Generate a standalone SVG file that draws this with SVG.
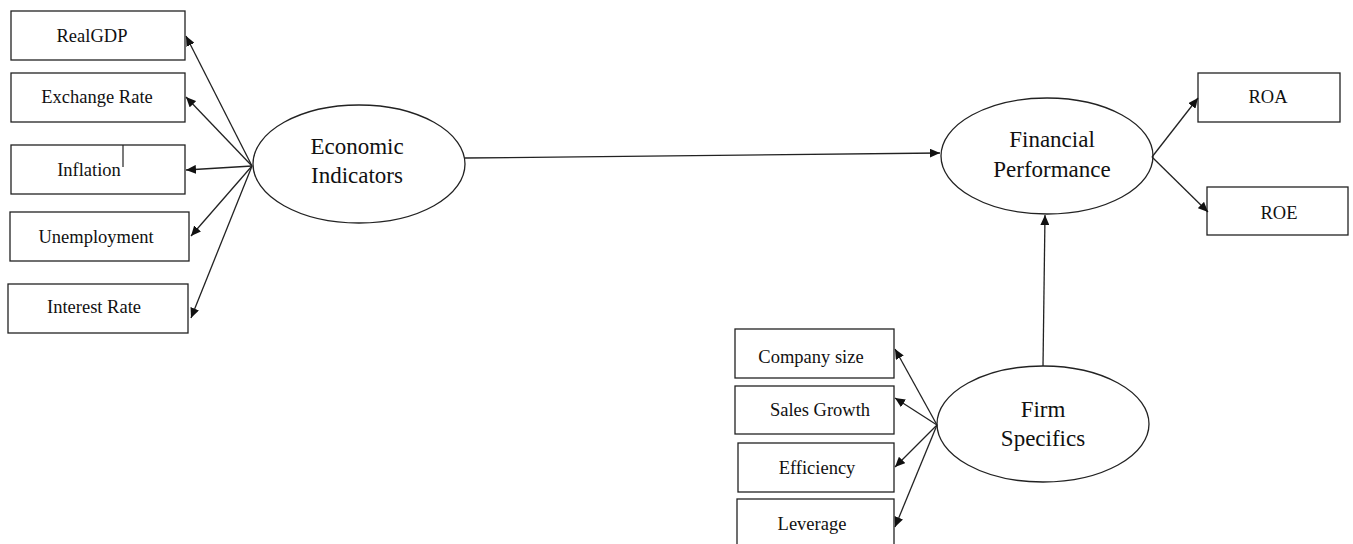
<svg xmlns="http://www.w3.org/2000/svg" width="1353" height="544" viewBox="0 0 1353 544">
<style>
.box{fill:#fff;stroke:#222;stroke-width:1.3}
.ell{fill:#fff;stroke:#222;stroke-width:1.3}
.bt{font-family:"Liberation Serif","Times New Roman",serif;font-size:18.5px;fill:#111;text-anchor:middle}
.et{font-family:"Liberation Serif","Times New Roman",serif;font-size:23px;fill:#111;text-anchor:middle}
.con line{stroke:#222;stroke-width:1.3;marker-end:url(#ah)}
</style>
<defs>
<marker id="ah" markerUnits="userSpaceOnUse" markerWidth="11" markerHeight="9" refX="10" refY="4.5" orient="auto">
<path d="M0,0 L10,4.5 L0,9 z" fill="#111"/>
</marker>
</defs>
<rect width="1353" height="544" fill="#fff"/>
<g id="realgdp"><rect class="box" x="11" y="11" width="174" height="49"/><text class="bt" x="92" y="42">RealGDP</text></g>
<g id="exchange"><rect class="box" x="11" y="73" width="174" height="49"/><text class="bt" x="97" y="103">Exchange Rate</text></g>
<g id="inflation"><rect class="box" x="11" y="145" width="174" height="49"/><line x1="123" y1="145" x2="123" y2="167" stroke="#222" stroke-width="1.2"/><text class="bt" x="89" y="176">Inflation</text></g>
<g id="unemployment"><rect class="box" x="10" y="212" width="179" height="49"/><text class="bt" x="96" y="243">Unemployment</text></g>
<g id="interest"><rect class="box" x="8" y="284" width="180" height="49"/><text class="bt" x="94" y="313">Interest Rate</text></g>
<g id="economic"><ellipse class="ell" cx="359" cy="164" rx="106" ry="59"/><text class="et" x="357" y="154">Economic</text><text class="et" x="357" y="183">Indicators</text></g>
<g id="financial"><ellipse class="ell" cx="1047" cy="156" rx="106" ry="58"/><text class="et" x="1052" y="147">Financial</text><text class="et" x="1052" y="177">Performance</text></g>
<g id="roa"><rect class="box" x="1198" y="73" width="142" height="49"/><text class="bt" x="1268" y="103">ROA</text></g>
<g id="roe"><rect class="box" x="1207" y="187" width="141" height="48"/><text class="bt" x="1279" y="219">ROE</text></g>
<g id="firm"><ellipse class="ell" cx="1043" cy="424" rx="106" ry="58"/><text class="et" x="1043" y="417">Firm</text><text class="et" x="1043" y="446">Specifics</text></g>
<g id="company"><rect class="box" x="735" y="329" width="159" height="49"/><text class="bt" x="811" y="363">Company size</text></g>
<g id="sales"><rect class="box" x="735" y="386" width="159" height="48"/><text class="bt" x="820" y="416">Sales Growth</text></g>
<g id="efficiency"><rect class="box" x="738" y="443" width="156" height="49"/><text class="bt" x="817" y="474">Efficiency</text></g>
<g id="leverage"><rect class="box" x="737" y="499" width="157" height="50"/><text class="bt" x="812" y="530">Leverage</text></g>
<g id="connectors" class="con">
<line x1="252" y1="166" x2="186" y2="36"/>
<line x1="252" y1="166" x2="186" y2="97"/>
<line x1="252" y1="166" x2="186" y2="170"/>
<line x1="252" y1="166" x2="191" y2="236"/>
<line x1="252" y1="166" x2="191" y2="318"/>
<line x1="465" y1="158" x2="940" y2="153"/>
<line x1="1152" y1="157" x2="1198" y2="98"/>
<line x1="1152" y1="157" x2="1208" y2="212"/>
<line x1="1043" y1="366" x2="1045" y2="215"/>
<line x1="937" y1="425" x2="895" y2="349"/>
<line x1="937" y1="425" x2="895" y2="398"/>
<line x1="937" y1="425" x2="895" y2="467"/>
<line x1="937" y1="425" x2="895" y2="527"/>
</g>
</svg>
